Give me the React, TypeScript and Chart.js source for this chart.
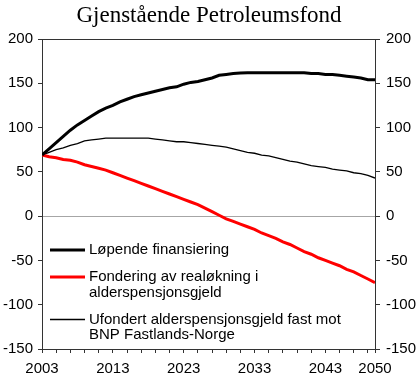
import React, { useEffect, useRef } from "react";
import { Chart, registerables } from "chart.js";

Chart.register(...registerables);

const chartTitle = "Gjenstående Petroleumsfond";

const years = [
  2003, 2004, 2005, 2006, 2007, 2008, 2009, 2010, 2011, 2012,
  2013, 2014, 2015, 2016, 2017, 2018, 2019, 2020, 2021, 2022,
  2023, 2024, 2025, 2026, 2027, 2028, 2029, 2030, 2031, 2032,
  2033, 2034, 2035, 2036, 2037, 2038, 2039, 2040, 2041, 2042,
  2043, 2044, 2045, 2046, 2047, 2048, 2049, 2050,
];

const lopende = [
  69, 76, 83, 90, 97, 103, 108, 113, 118, 122,
  125, 129, 132, 135, 137, 139, 141, 143, 145, 146,
  149, 151, 152, 154, 156, 159, 160, 161, 161.5, 162,
  162, 162, 162, 162, 162, 162, 162, 162, 161, 161,
  160, 160, 159, 158, 157, 156, 154, 154,
];

const fondering = [
  69, 67, 66, 64, 63, 61, 58, 56, 54, 52,
  49, 46, 43, 40, 37, 34, 31, 28, 25, 22,
  19, 16, 13, 9, 5, 1, -3, -6, -9, -12,
  -15, -19, -22, -25, -29, -32, -36, -40, -43, -47,
  -50, -53, -56, -60, -63, -67, -71, -75,
];

const ufondert = [
  69, 72, 75, 77, 80, 82, 85, 86, 87, 88,
  88, 88, 88, 88, 88, 88, 87, 86, 85, 84,
  84, 83, 82, 81, 80, 79, 78, 76, 74, 72,
  71, 69, 68, 66, 64, 62, 61, 59, 57, 56,
  55, 53, 52, 51, 49, 48, 46, 43,
];

const seriesNames = [
  "Løpende finansiering",
  "Fondering av realøkning i\nalderspensjonsgjeld",
  "Ufondert alderspensjonsgjeld fast mot\nBNP Fastlands-Norge",
];

const xTickYears = [
  2003, 2005, 2007, 2009, 2011, 2013, 2015, 2017, 2019, 2021,
  2023, 2025, 2027, 2029, 2031, 2033, 2035, 2037, 2039, 2041,
  2043, 2045, 2047, 2049, 2050,
];
const xLabelYears = [2003, 2013, 2023, 2033, 2043, 2050];
const yMin = -150;
const yMax = 200;
const yStep = 50;

const AXIS_COLOR = "#333333";
const FONT_SANS = '"Liberation Sans", Arial, sans-serif';

const framePlugin = {
  id: "frame",
  beforeDatasetsDraw(chart: any) {
    const { ctx, chartArea } = chart;
    ctx.save();
    ctx.strokeStyle = AXIS_COLOR;
    ctx.lineWidth = 1;
    ctx.strokeRect(
      Math.round(chartArea.left) + 0.5,
      Math.round(chartArea.top) + 0.5,
      Math.round(chartArea.right - chartArea.left),
      Math.round(chartArea.bottom - chartArea.top)
    );
    ctx.restore();
  },
};

const titlePlugin = {
  id: "customTitle",
  afterDraw(chart: any) {
    const { ctx } = chart;
    ctx.save();
    ctx.fillStyle = "#000";
    ctx.font = '23px "Liberation Serif", "Times New Roman", serif';
    ctx.textAlign = "center";
    ctx.textBaseline = "alphabetic";
    ctx.fillText(chartTitle, 209, 22);
    ctx.restore();
  },
};

const legendPlugin = {
  id: "customLegend",
  afterDraw(chart: any) {
    const { ctx, chartArea } = chart;
    const x0 = chartArea.left + 8;
    const sampleLen = 35;
    const textX = x0 + sampleLen + 4;
    const lineH = 15.5;
    const gap = 11.5;
    let y = 250;
    ctx.save();
    ctx.font = "15px " + FONT_SANS;
    ctx.textAlign = "left";
    ctx.textBaseline = "middle";
    chart.data.datasets.forEach((ds: any) => {
      const lines = String(ds.label).split("\n");
      ctx.strokeStyle = ds.borderColor;
      ctx.lineWidth = ds.borderWidth;
      ctx.beginPath();
      ctx.moveTo(x0, y);
      ctx.lineTo(x0 + sampleLen, y);
      ctx.stroke();
      ctx.fillStyle = "#000";
      lines.forEach((ln: string, i: number) => {
        ctx.fillText(ln, textX, y + i * lineH);
      });
      y += lines.length * lineH + gap;
    });
    ctx.restore();
  },
};

export default function App() {
  const canvasRef = useRef<HTMLCanvasElement | null>(null);

  useEffect(() => {
    if (!canvasRef.current) return;
    const mk = (vals: number[]) => years.map((yr, i) => ({ x: yr, y: vals[i] }));
    const chart = new Chart(canvasRef.current, {
      type: "line",
      data: {
        datasets: [
          {
            label: seriesNames[0],
            data: mk(lopende),
            borderColor: "#000000",
            borderWidth: 3,
            pointRadius: 0,
            tension: 0,
            yAxisID: "y",
          },
          {
            label: seriesNames[1],
            data: mk(fondering),
            borderColor: "#ff0000",
            borderWidth: 3,
            pointRadius: 0,
            tension: 0,
            yAxisID: "y",
          },
          {
            label: seriesNames[2],
            data: mk(ufondert),
            borderColor: "#000000",
            borderWidth: 1.3,
            pointRadius: 0,
            tension: 0,
            yAxisID: "y",
          },
        ],
      },
      options: {
        animation: false,
        responsive: false,
        events: [],
        layout: { padding: { top: 39, left: 0, right: 0, bottom: 0 } },
        plugins: {
          legend: { display: false },
          title: { display: false },
          tooltip: { enabled: false },
        },
        scales: {
          x: {
            type: "linear",
            min: years[0],
            max: years[years.length - 1],
            afterBuildTicks: (scale: any) => {
              scale.ticks = xTickYears.map((v) => ({ value: v }));
            },
            afterFit: (scale: any) => {
              scale.height = 31;
            },
            border: { display: true, color: AXIS_COLOR },
            grid: {
              drawOnChartArea: false,
              drawTicks: true,
              tickLength: 4,
              color: AXIS_COLOR,
            },
            ticks: {
              autoSkip: false,
              maxRotation: 0,
              minRotation: 0,
              padding: 7,
              color: "#000",
              font: { family: FONT_SANS, size: 15 },
              callback: (v: any) => (xLabelYears.includes(Number(v)) ? String(v) : ""),
            },
          },
          y: {
            position: "left",
            min: yMin,
            max: yMax,
            afterFit: (scale: any) => {
              scale.width = 42;
            },
            border: { display: true, color: AXIS_COLOR },
            grid: {
              drawOnChartArea: true,
              drawTicks: true,
              tickLength: 4,
              tickColor: AXIS_COLOR,
              color: (c: any) =>
                c.tick && c.tick.value === 0 ? "#a6a6a6" : "rgba(0,0,0,0)",
            },
            ticks: {
              stepSize: yStep,
              padding: 5,
              color: "#000",
              font: { family: FONT_SANS, size: 15 },
            },
          },
          y2: {
            position: "right",
            min: yMin,
            max: yMax,
            afterFit: (scale: any) => {
              scale.width = 43;
            },
            border: { display: true, color: AXIS_COLOR },
            grid: {
              drawOnChartArea: false,
              drawTicks: true,
              tickLength: 5,
              color: AXIS_COLOR,
            },
            ticks: {
              stepSize: yStep,
              padding: 6,
              color: "#000",
              font: { family: FONT_SANS, size: 15 },
            },
          },
        },
      } as any,
      plugins: [framePlugin, titlePlugin, legendPlugin],
    });
    return () => chart.destroy();
  }, []);

  return (
    <div style={{ position: "absolute", left: 0, top: 0, width: 418, height: 380, background: "#fff" }}>
      <canvas ref={canvasRef} width={418} height={380} />
    </div>
  );
}
